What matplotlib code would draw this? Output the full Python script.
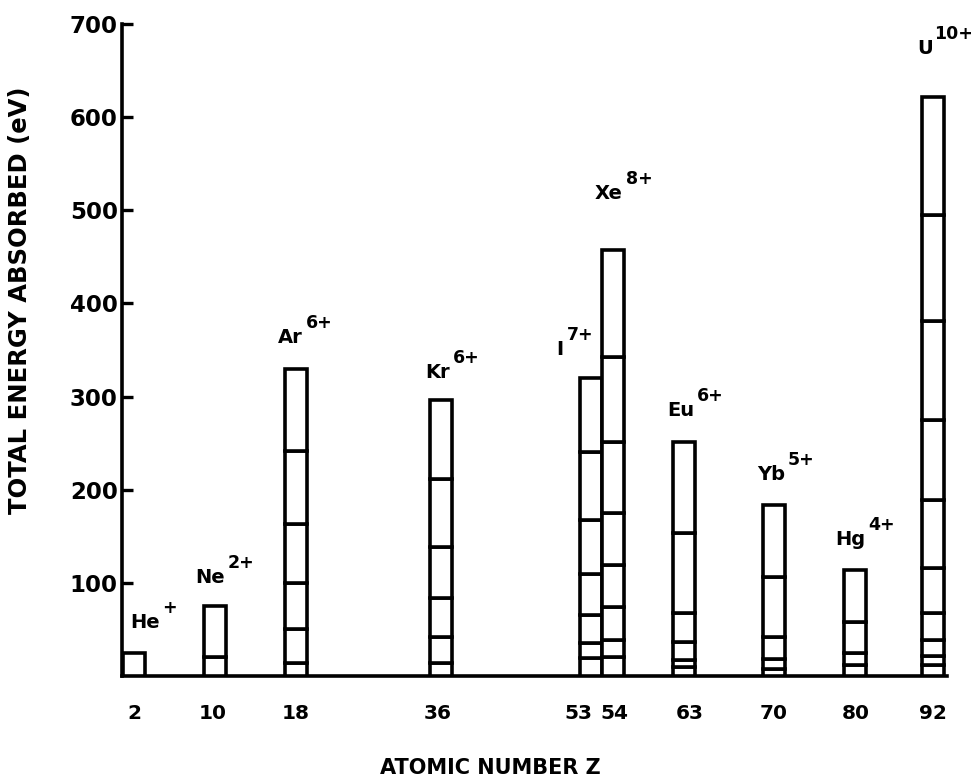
import matplotlib
matplotlib.use("Agg")
import matplotlib.pyplot as plt

# ---- data ----
elements = ['He', 'Ne', 'Ar', 'Kr', 'I', 'Xe', 'Eu', 'Yb', 'Hg', 'U']
charges = ['+', '2+', '6+', '6+', '7+', '8+', '6+', '5+', '4+', '10+']
z_labels = ['2', '10', '18', '36', '53', '54', '63', '70', '80', '92']
he_levels = [25]
ne_levels = [20, 75]
ar_levels = [14, 50, 100, 163, 242, 330]
kr_levels = [14, 42, 84, 138, 211, 296]
i_levels = [19, 35, 65, 110, 167, 240, 320]
xe_levels = [20, 39, 74, 119, 175, 251, 342, 457]
eu_levels = [10, 17, 37, 68, 153, 251]
yb_levels = [8, 18, 42, 106, 184]
hg_levels = [12, 25, 58, 114]
u_levels = [12, 21, 39, 68, 116, 189, 275, 381, 495, 622]
levels = [he_levels, ne_levels, ar_levels, kr_levels, i_levels,
          xe_levels, eu_levels, yb_levels, hg_levels, u_levels]
y_ticks = [100, 200, 300, 400, 500, 600, 700]

# ---- layout (not data) ----
x_pos = [12, 93, 174, 319, 469, 491, 562, 652, 733, 811]
tick_pos = [12, 91, 174, 316, 456, 492, 568, 652, 734, 811]
bar_w = 22
label_dx = [7, -9, -7, -5, -24, -7, -6, -6, -9, -5]
label_dy = [30, 29, 31, 28, 28, 57, 32, 30, 30, 48]
sup_dx = [2, 3, 3, 3, 4, 3, 3, 3, 3, 1]

FONT = 'DejaVu Sans'
fig = plt.figure(figsize=(9.72, 7.79), dpi=100)
ax = fig.add_axes([122 / 972, 1 - 676 / 779, 825 / 972, 652 / 779])

for xc, lv in zip(x_pos, levels):
    prev = 0
    for top in lv:
        ax.bar(xc, top - prev, bottom=prev, width=bar_w, color='white',
               edgecolor='black', linewidth=2.6, zorder=3)
        prev = top

for xc, lv, el, ch, dx, dy, sdx in zip(x_pos, levels, elements, charges,
                                       label_dx, label_dy, sup_dx):
    base = ax.annotate(el, xy=(xc - bar_w / 2, lv[-1]), xytext=(dx, dy),
                       textcoords='offset pixels', ha='left', va='center',
                       fontsize=14, fontweight='bold', family=FONT)
    ax.annotate(ch, xy=(1, 1), xycoords=base, xytext=(sdx, -4),
                textcoords='offset pixels', ha='left', va='bottom',
                fontsize=12.5, fontweight='bold', family=FONT)

ax.set_xlim(0, 825)
ax.set_ylim(0, 700)
ax.set_yticks(y_ticks)
ax.set_yticklabels([str(t) for t in y_ticks], fontsize=16.5, fontweight='bold', family=FONT)
ax.set_xticks(tick_pos)
ax.set_xticklabels(z_labels, fontsize=14.5, fontweight='bold', family=FONT)
ax.tick_params(axis='y', direction='in', length=8, width=2.4, pad=3)
ax.tick_params(axis='x', length=0, pad=20)
for s in ['top', 'right']:
    ax.spines[s].set_visible(False)
for s in ['left', 'bottom']:
    ax.spines[s].set_linewidth(2.6)

fig.text(490 / 972, 1 - 768 / 779, 'ATOMIC NUMBER Z', ha='center', va='center',
         fontsize=15, fontweight='bold', family=FONT)
fig.text(20 / 972, 1 - 300 / 779, 'TOTAL ENERGY ABSORBED (eV)', ha='center', va='center',
         rotation=90, fontsize=17.5, fontweight='bold', family=FONT)

fig.savefig('out.png', dpi=100)
